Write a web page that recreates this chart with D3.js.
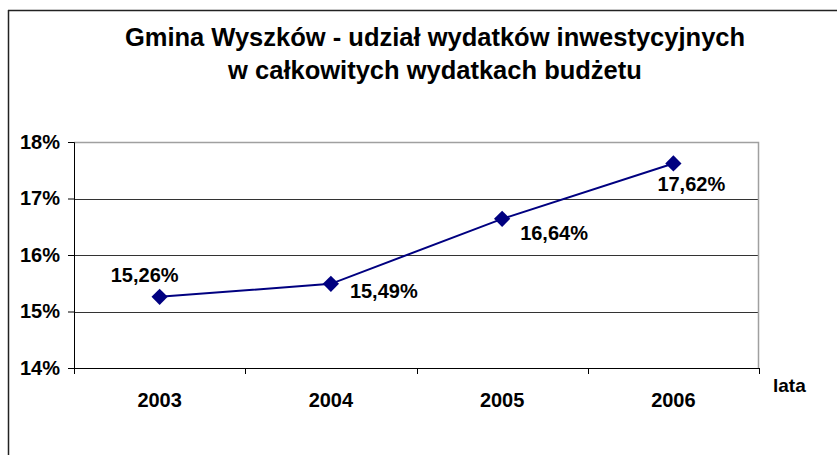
<!DOCTYPE html>
<html>
<head>
<meta charset="utf-8">
<script src="https://cdn.jsdelivr.net/npm/d3@7"></script>
<style>
    body { margin: 0; background: #fff; }
    svg { display: block; font-family: "Liberation Sans", Arial, sans-serif; font-weight: bold; }
</style>
</head>
<body>
<svg id="chart" width="837" height="457"></svg>
<script>
    // --- data ---
    const years = ["2003", "2004", "2005", "2006"];
    const shares = [15.26, 15.49, 16.64, 17.62];
    const yTicks = [14, 15, 16, 17, 18];
    const titleLines = ["Gmina Wyszków - udział wydatków inwestycyjnych", "w całkowitych wydatkach budżetu"];
    const xAxisName = "lata";

    // label placement relative to each marker (dx, dy, anchor)
    const labelOffsets = [
        { dx: -15, dy: -15, anchor: "middle" },
        { dx: 19, dy: 14, anchor: "start" },
        { dx: 18, dy: 21, anchor: "start" },
        { dx: -16, dy: 28, anchor: "start" }
    ];

    // --- setup ---
    const margin = { top: 142, right: 78, bottom: 89, left: 74 };
    const width = 837 - margin.left - margin.right;
    const height = 457 - margin.top - margin.bottom;

    const svg = d3.select("#chart");

    // outer frame (only top + left visible)
    svg.append("line")
        .attr("x1", 8).attr("x2", 837).attr("y1", 10.5).attr("y2", 10.5)
        .attr("stroke", "#222").attr("stroke-width", 1.5);
    svg.append("line")
        .attr("x1", 8.5).attr("x2", 8.5).attr("y1", 10).attr("y2", 455)
        .attr("stroke", "#222").attr("stroke-width", 1.5);

    // title
    svg.append("g")
        .selectAll("text")
        .data(titleLines)
        .join("text")
        .attr("x", 435)
        .attr("y", (d, i) => 46 + i * 33)
        .attr("text-anchor", "middle")
        .style("font-size", "25.5px")
        .text(d => d);

    const g = svg.append("g")
        .attr("transform", `translate(${margin.left},${margin.top})`);

    // --- scales ---
    const xScale = d3.scaleBand()
        .domain(years)
        .range([0, width]);

    const yScale = d3.scaleLinear()
        .domain([14, 18])
        .range([height, 0]);

    // --- grid ---
    g.append("g")
        .selectAll("line")
        .data(yTicks.slice(1, -1))
        .join("line")
        .attr("x1", 0).attr("x2", width)
        .attr("y1", d => Math.round(yScale(d)) + 0.5)
        .attr("y2", d => Math.round(yScale(d)) + 0.5)
        .attr("stroke", "#333");

    // top + right plot border (light gray)
    g.append("path")
        .attr("d", `M0,0.5H${width - 0.5}V${height}`)
        .attr("fill", "none")
        .attr("stroke", "#a0a0a0")
        .attr("stroke-width", 1.5);

    // --- axes ---
    const yAxis = g.append("g")
        .call(d3.axisLeft(yScale).tickValues(yTicks).tickSize(6).tickPadding(8).tickFormat(d => d + "%"));
    yAxis.select(".domain").attr("stroke", "#000");
    yAxis.selectAll("text").style("font-size", "20px").attr("fill", "#000");

    // x axis: ticks at category boundaries
    const xAxis = g.append("g")
        .attr("transform", `translate(0,${height})`);
    xAxis.append("line")
        .attr("x1", 0).attr("x2", width).attr("y1", 0.5).attr("y2", 0.5)
        .attr("stroke", "#000");
    xAxis.selectAll(".xtick")
        .data(years.concat([null]))
        .join("line")
        .attr("class", "xtick")
        .attr("x1", (d, i) => Math.round(i * xScale.step()) + 0.5)
        .attr("x2", (d, i) => Math.round(i * xScale.step()) + 0.5)
        .attr("y1", 0).attr("y2", 6)
        .attr("stroke", "#000");
    xAxis.selectAll(".xlabel")
        .data(years)
        .join("text")
        .attr("class", "xlabel")
        .attr("x", d => xScale(d) + xScale.bandwidth() / 2)
        .attr("y", 39)
        .attr("text-anchor", "middle")
        .style("font-size", "20px")
        .text(d => d);

    svg.append("text")
        .attr("x", 773)
        .attr("y", 392)
        .style("font-size", "19px")
        .text(xAxisName);

    // --- line + markers ---
    const points = years.map((y, i) => ({ year: y, value: shares[i], off: labelOffsets[i] }));
    const cx = d => xScale(d.year) + xScale.bandwidth() / 2;
    const cy = d => yScale(d.value);

    g.append("path")
        .datum(points)
        .attr("d", d3.line().x(cx).y(cy))
        .attr("fill", "none")
        .attr("stroke", "#000080")
        .attr("stroke-width", 2);

    g.selectAll(".marker")
        .data(points)
        .join("path")
        .attr("class", "marker")
        .attr("d", d3.symbol(d3.symbolSquare, 132))
        .attr("transform", d => `translate(${cx(d)},${cy(d)}) rotate(45)`)
        .attr("fill", "#000080");

    g.selectAll(".label")
        .data(points)
        .join("text")
        .attr("class", "label")
        .attr("x", d => cx(d) + d.off.dx)
        .attr("y", d => cy(d) + d.off.dy)
        .attr("text-anchor", d => d.off.anchor)
        .style("font-size", "20px")
        .text(d => d.value.toFixed(2).replace(".", ",") + "%");
</script>
</body>
</html>
